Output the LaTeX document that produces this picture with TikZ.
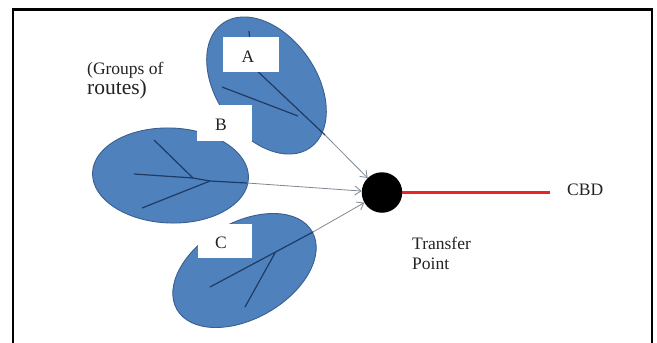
\documentclass[tikz,border=0pt]{standalone}
\usepackage{fontspec}
\setmainfont{Liberation Serif}
\usetikzlibrary{arrows.meta}
\definecolor{leaf}{HTML}{4F81BD}
\definecolor{leafedge}{HTML}{3A5F8F}
\definecolor{route}{HTML}{1F3B63}
\definecolor{arrowgray}{HTML}{7F8790}
\definecolor{cbdred}{HTML}{E8262A}
\definecolor{txt}{HTML}{222222}
\tikzset{
  leafshape/.style={fill=leaf,draw=leafedge,line width=0.9pt},
  whitebox/.style={fill=white,draw=none},
  routeline/.style={draw=route,line width=1.2pt},
  feeder/.style={draw=arrowgray,line width=0.8pt,-{Straight Barb[length=6pt,width=9pt]}},
  frameline/.style={line width=2.6pt,black},
  lbl/.style={text=txt,inner sep=0pt,font=\fontsize{17.5}{20}\selectfont},
}
\begin{document}
\begin{tikzpicture}[x=1pt,y=1pt]
\useasboundingbox (0,0) rectangle (657,-343);
% frame
\draw[frameline] (13,-343) -- (13,-9.3) -- (652,-9.3) -- (652,-343);
% leaves
\fill[leafshape] (266.5,-85.5) ellipse [x radius=76, y radius=50, rotate=-55];
\fill[leafshape] (170.5,-175.5) ellipse [x radius=78, y radius=47.5, rotate=-2];
\fill[leafshape] (244.5,-270.5) ellipse [x radius=78, y radius=48, rotate=30];
% route lines
\coordinate (aTop) at (249,-31);
\coordinate (aMid) at (252,-66);
\coordinate (aEnd) at (325,-135);
\coordinate (aBr) at (222,-87);
\coordinate (aJn) at (298,-116);
\draw[routeline] (aTop) -- (aMid) -- (aEnd);
\draw[routeline] (aBr) -- (aJn);
\coordinate (bL) at (134,-174);
\coordinate (bJ1) at (193,-178);
\coordinate (bJ2) at (210,-181);
\coordinate (bEnd) at (247,-183);
\coordinate (bUp) at (154,-140);
\coordinate (bDn) at (142,-208);
\draw[routeline] (bL) -- (bJ1) -- (bJ2) -- (bEnd);
\draw[routeline] (bUp) -- (bJ1);
\draw[routeline] (bJ2) -- (bDn);
\coordinate (cL) at (210,-287);
\coordinate (cEnd) at (313,-232);
\coordinate (cJ) at (275,-253);
\coordinate (cDn) at (245,-307);
\draw[routeline] (cL) -- (cEnd);
\draw[routeline] (cJ) -- (cDn);
% label boxes
\fill[whitebox] (223,-37) rectangle (279,-72);
\fill[whitebox] (197,-105) rectangle (252,-141);
\fill[whitebox] (198,-224) rectangle (252,-258);
\node[lbl] (la) at (248,-57) {A};
\node[lbl] (lb) at (221,-125) {B};
\node[lbl] (lc) at (221,-243) {C};
% transfer point
\node[circle,fill=black,minimum size=40.5pt,inner sep=0pt] (tp) at (382,-192.5) {};
\draw[feeder] (aEnd) -- (tp);
\draw[feeder] (bEnd) -- (tp);
\draw[feeder] (cEnd) -- (tp);
\node[lbl,anchor=west] (cbd) at (567,-190) {CBD};
\coordinate (cbdEnd) at (550,-192.5);
\draw[cbdred,line width=2.4pt] (tp.east) -- (cbdEnd);
\node[lbl,anchor=west,align=left] (tr) at (412,-253) {Transfer\\Point};
\node[lbl,anchor=west,align=left] (grp) at (87,-81) {(Groups of\\{\fontsize{21.5}{20}\selectfont routes)}};
\end{tikzpicture}
\end{document}
